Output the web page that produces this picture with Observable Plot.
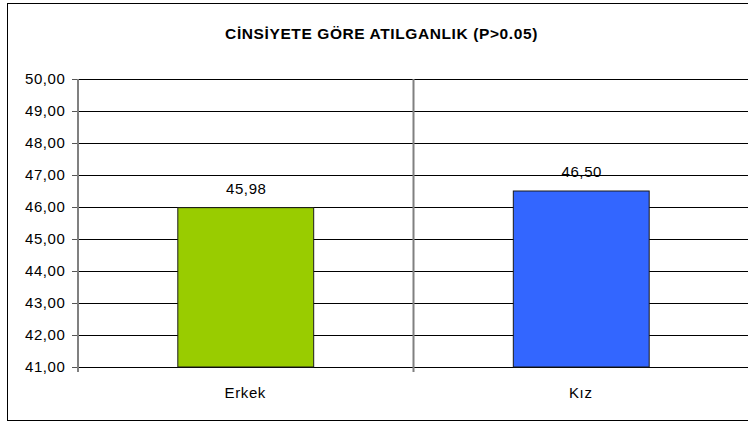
<!DOCTYPE html>
<html><head><meta charset="utf-8">
<script src="https://cdn.jsdelivr.net/npm/d3@7"></script>
<script src="https://cdn.jsdelivr.net/npm/@observablehq/plot@0.6"></script>
<style>
html,body{margin:0;padding:0;background:#fff;}
#wrap{position:relative;width:748px;height:423px;overflow:hidden;}
#box{position:absolute;left:7px;top:3px;width:800px;height:416px;border:1px solid #000;}
#chart{position:absolute;left:0;top:0;}
</style></head><body>
<div id="wrap"><div id="box"></div><div id="chart"></div></div>
<script>
const title = "CİNSİYETE GÖRE ATILGANLIK (P>0.05)";
const categories = ["Erkek", "Kız"];
const values = [45.98, 46.50];
const colors = ["#99CC00", "#3366FF"];
const yTicks = [41, 42, 43, 44, 45, 46, 47, 48, 49, 50];
const yDomain = [41, 50];

const W = 748, H = 423;
const mL = 77, mR = 0, mT = 79, mB = 56;
const step = (W - mL - mR) / categories.length;
const fmt = d => d.toFixed(2).replace(".", ",");

const data = categories.map((c, i) => ({category: c, value: values[i], color: colors[i]}));

const plot = Plot.plot({
  width: W, height: H,
  marginLeft: mL, marginRight: mR, marginTop: mT, marginBottom: mB,
  style: {fontFamily: "'Liberation Sans', Arial, sans-serif", fontSize: "15px", letterSpacing: "0.6px", background: "transparent", color: "#000", overflow: "visible"},
  x: {type: "band", domain: categories, paddingInner: 0.595, paddingOuter: 0.2975, round: false, label: null},
  y: {domain: yDomain, label: null},
  color: {type: "identity"},
  marks: [
    Plot.gridY(yTicks, {stroke: "#000", strokeOpacity: 1}),
    Plot.ruleX(categories, {x: d => d, dx: -step / 2 + 0.5, stroke: "#808080", strokeWidth: 2, insetBottom: -5}),
    Plot.barY(data, {x: "category", y1: yDomain[0], y2: "value", fill: "color", stroke: "#1a1a1a", strokeWidth: 1, dx: 1}),
    Plot.text(data, {x: "category", y: "value", text: d => fmt(d.value), dy: -19, dx: 1, fontSize: 15, fill: "#000"}),
    Plot.axisY({ticks: yTicks, tickFormat: fmt, tickSize: 5, tickPadding: 7, fontSize: 15, stroke: "#555", fill: "#000", label: null}),
    Plot.axisX({tickSize: 0, tickPadding: 20, fontSize: 15, fill: "#000", label: null}),
    Plot.text([title], {text: d => d, frameAnchor: "top", dx: -31.5, dy: -52, fontWeight: "bold", fontSize: 15.5, fill: "#000"})
  ]
});
document.getElementById("chart").appendChild(plot);
</script>
</body></html>
